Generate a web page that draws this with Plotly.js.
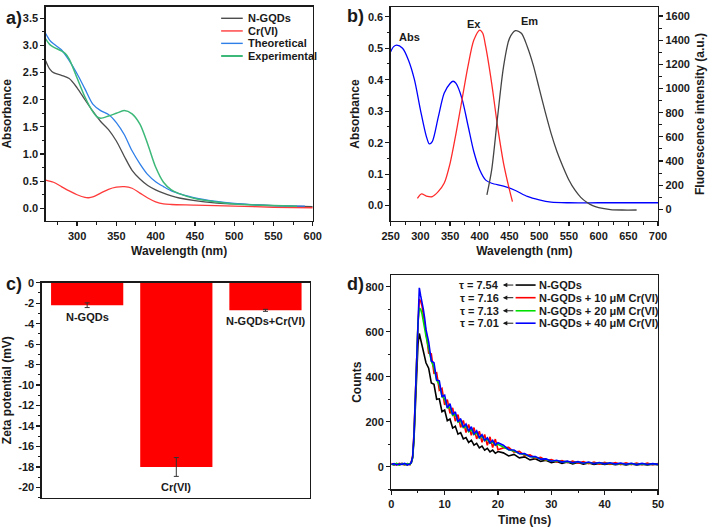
<!DOCTYPE html>
<html>
<head>
<meta charset="utf-8">
<script src="https://cdn.plot.ly/plotly-3.0.1.min.js"></script>
<style>
  html, body { margin: 0; padding: 0; background: #fff; }
  #chart { width: 708px; height: 529px; }
</style>
</head>
<body>
<div id="chart"></div>
<script>
// ---- a) UV-vis absorbance ----
const aGqdNm = [260, 265, 270, 280, 290, 300, 310, 320, 330, 340, 350, 360, 370, 380, 390, 400, 410, 420, 430, 450, 475, 500, 550, 600];
const aGqdAbs = [2.72, 2.57, 2.50, 2.45, 2.39, 2.22, 2.00, 1.79, 1.60, 1.45, 1.24, 0.96, 0.70, 0.54, 0.42, 0.34, 0.28, 0.23, 0.19, 0.14, 0.10, 0.08, 0.05, 0.03];
const aCrNm = [260, 270, 280, 290, 300, 310, 315, 320, 330, 340, 350, 360, 370, 380, 390, 400, 410, 420, 450, 500, 550, 600];
const aCrAbs = [0.52, 0.48, 0.40, 0.32, 0.25, 0.20, 0.195, 0.21, 0.28, 0.35, 0.39, 0.40, 0.37, 0.28, 0.19, 0.12, 0.08, 0.07, 0.06, 0.04, 0.02, 0.01];
const aTheoNm = [260, 265, 270, 280, 290, 300, 310, 320, 330, 340, 350, 360, 370, 380, 390, 400, 410, 420, 430, 450, 475, 500, 550, 590];
const aTheoAbs = [3.22, 3.10, 3.03, 2.92, 2.72, 2.48, 2.20, 1.92, 1.80, 1.73, 1.58, 1.36, 1.06, 0.82, 0.62, 0.49, 0.40, 0.32, 0.27, 0.19, 0.13, 0.09, 0.05, 0.04];
const aExpNm = [260, 265, 270, 280, 285, 290, 300, 310, 320, 325, 330, 340, 350, 360, 370, 380, 390, 400, 410, 420, 430, 450, 475, 500, 550, 580];
const aExpAbs = [3.12, 3.02, 2.97, 2.90, 2.85, 2.75, 2.40, 2.05, 1.78, 1.69, 1.66, 1.70, 1.75, 1.80, 1.74, 1.55, 1.18, 0.76, 0.48, 0.34, 0.27, 0.18, 0.12, 0.08, 0.05, 0.04];
const aNames = ["N-GQDs", "Cr(VI)", "Theoretical", "Experimental"];

// ---- b) absorbance / excitation / emission ----
const bAbsNm = [250, 255, 260, 270, 280, 290, 300, 310, 315, 320, 330, 340, 350, 355, 360, 370, 380, 390, 400, 410, 420, 440, 460, 480, 500, 520, 550, 600, 650, 700];
const bAbs = [0.489, 0.505, 0.510, 0.500, 0.462, 0.400, 0.305, 0.220, 0.196, 0.203, 0.280, 0.357, 0.388, 0.395, 0.388, 0.340, 0.256, 0.171, 0.113, 0.081, 0.071, 0.062, 0.048, 0.029, 0.018, 0.011, 0.009, 0.009, 0.009, 0.009];
const bExNm = [295, 302, 310, 320, 330, 340, 350, 360, 370, 380, 390, 400, 405, 410, 420, 430, 440, 450, 455];
const bEx = [91, 127, 110, 105, 146, 215, 381, 629, 905, 1181, 1401, 1484, 1457, 1346, 1043, 684, 381, 160, 63];
const bEmNm = [412, 420, 430, 440, 450, 460, 470, 480, 490, 500, 510, 520, 530, 540, 550, 560, 570, 580, 590, 600, 620, 640, 664];
const bEm = [119, 326, 767, 1181, 1415, 1479, 1457, 1346, 1194, 1001, 808, 629, 477, 353, 243, 160, 99, 58, 30, 14, -2, -6, -6];
const bLabels = ["Abs", "Ex", "Em"];

// ---- c) zeta potential ----
const cSamples = ["N-GQDs", "Cr(VI)", "N-GQDs+Cr(VI)"];
const cZeta = [-2.2, -18.0, -2.7];
const cErr = [0.23, 0.92, 0.1];
const cTicks = [0, -2, -4, -6, -8, -10, -12, -14, -16, -18, -20];

// ---- d) fluorescence decay ----
const dTime = [0, 0.5, 1, 1.5, 2, 2.5, 3, 3.5,
  3.75, 4, 4.25, 4.5, 4.75, 5, 5.25, 5.5, 5.75, 6, 6.25, 6.5,
  7, 7.5, 8, 8.5, 9, 9.5, 10, 10.5, 11, 11.5, 12, 12.5, 13, 13.5, 14, 14.5, 15, 15.5, 16, 16.5, 17, 17.5, 18, 18.5, 19, 19.5, 20,
  21, 22, 23, 24, 25, 26, 27, 28, 29, 30, 31, 32, 33, 34, 35, 36, 37, 38, 39, 40, 41, 42, 43, 44, 45, 46, 47, 48, 49, 50];
const dGqd = [12, 8, 14, 9, 15, 10, 8, 14,
  18, 40, 120, 260, 420, 545, 592, 565, 540, 510, 480, 462,
  438, 372, 366, 300, 302, 245, 252, 205, 212, 172, 180, 145, 152, 124, 130, 108, 118, 96, 104, 84, 92, 74, 82, 66, 74, 60, 68,
  62, 48, 55, 40, 44, 31, 36, 24, 29, 18, 24, 15, 21, 13, 19, 12, 17, 11, 15, 10, 14, 9, 13, 8, 13, 8, 12, 8, 12, 9];
const dCr10 = [14, 10, 9, 15, 12, 8, 14, 9,
  22, 48, 150, 330, 510, 630, 745, 735, 715, 680, 645, 600,
  505, 502, 415, 418, 340, 348, 275, 298, 237, 262, 203, 232, 175, 206, 152, 188, 140, 174, 124, 158, 109, 144, 96, 133, 86, 123, 76,
  84, 86, 65, 69, 50, 53, 37, 42, 28, 32, 22, 28, 18, 25, 16, 23, 14, 21, 12, 20, 11, 19, 10, 18, 10, 17, 9, 16, 9, 15];
const dCr20 = [11, 9, 15, 8, 13, 10, 14, 10,
  19, 42, 130, 290, 480, 640, 705, 700, 680, 645, 615, 580,
  525, 470, 440, 385, 365, 315, 300, 262, 265, 228, 232, 198, 204, 174, 180, 156, 165, 143, 152, 128, 136, 116, 122, 105, 111, 96, 100,
  89, 76, 70, 59, 55, 46, 42, 35, 32, 26, 27, 22, 23, 18, 21, 16, 19, 15, 17, 14, 16, 12, 15, 11, 14, 11, 13, 10, 13, 11];
const dCr40 = [10, 14, 8, 12, 11, 15, 9, 12,
  20, 45, 140, 310, 520, 690, 795, 760, 735, 700, 660, 610,
  555, 470, 462, 385, 382, 312, 318, 262, 280, 232, 244, 200, 214, 176, 190, 158, 178, 146, 160, 130, 143, 117, 129, 106, 118, 97, 107,
  96, 76, 75, 58, 59, 45, 46, 34, 35, 25, 29, 21, 25, 18, 23, 16, 21, 14, 19, 13, 18, 12, 17, 11, 16, 10, 15, 10, 14, 11];
const dNames = ["N-GQDs", "N-GQDs + 10 \u03bcM Cr(VI)", "N-GQDs + 20 \u03bcM Cr(VI)", "N-GQDs + 40 \u03bcM Cr(VI)"];
const dTau = ["7.54", "7.16", "7.13", "7.01"];

const FONT = "Arial, 'Liberation Sans', sans-serif";
const INK = "#1a1a1a";
const aColors = ["#4d4d4d", "#ff3b3b", "#2f7fe8", "#3cb878"];
const bColors = ["#0000ff", "#ff2a2a", "#444444"];
const dColors = ["#000000", "#ff0000", "#00e000", "#0000ff"];

function axisStyle(extra) {
  return Object.assign({
    showline: true, linecolor: INK, linewidth: 1.3, mirror: true,
    ticks: "outside", ticklen: 4, tickwidth: 1.2, tickcolor: INK,
    showgrid: false, zeroline: false,
    tickfont: { family: FONT, size: 11, color: INK, weight: "bold" }
  }, extra);
}
function minor(dtick) {
  return { dtick: dtick, ticks: "outside", ticklen: 2.5, tickwidth: 1, tickcolor: INK, showgrid: false };
}
const txt = (size) => ({ family: FONT, size: size, color: INK, weight: "bold" });

const line = (x, y, color, xa, ya, w) => ({
  x: x, y: y, type: "scatter", mode: "lines", xaxis: xa, yaxis: ya,
  line: { color: color, width: w || 1.3, shape: "spline", smoothing: 0.8 },
  showlegend: false, hoverinfo: "skip"
});

const traces = [
  line(aGqdNm, aGqdAbs, aColors[0], "x", "y"),
  line(aCrNm, aCrAbs, aColors[1], "x", "y"),
  line(aTheoNm, aTheoAbs, aColors[2], "x", "y"),
  line(aExpNm, aExpAbs, aColors[3], "x", "y", 1.5),
  line(bAbsNm, bAbs, bColors[0], "x2", "y2"),
  line(bExNm, bEx, bColors[1], "x2", "y3"),
  line(bEmNm, bEm, bColors[2], "x2", "y3"),
  {
    x: cSamples, y: cZeta, type: "bar", xaxis: "x3", yaxis: "y4", width: 0.81,
    marker: { color: "#ff0000", line: { width: 0 } },
    error_y: { type: "data", array: cErr, visible: true, color: "#333", thickness: 1, width: 2.5 },
    showlegend: false, hoverinfo: "skip"
  }
];
[dGqd, dCr10, dCr20, dCr40].forEach((ys, i) => {
  traces.push({
    x: dTime, y: ys, type: "scatter", mode: "lines", xaxis: "x4", yaxis: "y5",
    line: { color: dColors[i], width: 1.6 }, showlegend: false, hoverinfo: "skip"
  });
});

const annotations = [];
const shapes = [];

// panel letters
[["a)", 4, 18], ["b)", 345, 16], ["c)", 4, 284], ["d)", 345, 284]].forEach(p => {
  annotations.push({ text: p[0], xref: "paper", yref: "paper", x: p[1] / 708, y: 1 - p[2] / 529,
    xanchor: "left", yanchor: "middle", showarrow: false, font: txt(18) });
});

// panel a key
const aKeyY = [0.946, 0.887, 0.829, 0.770];
aNames.forEach((n, i) => {
  shapes.push({ type: "line", xref: "x domain", yref: "y domain", x0: 0.657, x1: 0.738, y0: aKeyY[i], y1: aKeyY[i],
    line: { color: aColors[i], width: i === 3 ? 2 : 1.4 } });
  annotations.push({ text: n, xref: "x domain", yref: "y domain", x: 0.75, y: aKeyY[i],
    xanchor: "left", yanchor: "middle", showarrow: false, font: txt(11) });
});

// panel b peak labels
[[281, 0.535], [391, 0.578], [483, 0.585]].forEach((p, i) => {
  annotations.push({ text: bLabels[i], xref: "x2", yref: "y2", x: p[0], y: p[1],
    showarrow: false, font: txt(11) });
});

// panel c bar labels
[-3.33, -20.0, -3.75].forEach((yv, i) => {
  annotations.push({ text: cSamples[i], xref: "x3", yref: "y4", x: cSamples[i], y: yv,
    showarrow: false, font: txt(11) });
});

// panel d key with lifetimes
const dKeyY = [0.953, 0.894, 0.833, 0.775];
dNames.forEach((n, i) => {
  shapes.push({ type: "line", xref: "x4 domain", yref: "y5 domain", x0: 0.466, x1: 0.541, y0: dKeyY[i], y1: dKeyY[i],
    line: { color: dColors[i], width: 1.6 } });
  annotations.push({ text: n, xref: "x4 domain", yref: "y5 domain", x: 0.548, y: dKeyY[i],
    xanchor: "left", yanchor: "middle", showarrow: false, font: txt(11) });
  annotations.push({ text: "\u03c4 = " + dTau[i], xref: "x4 domain", yref: "y5 domain", x: 0.41, y: dKeyY[i],
    xanchor: "right", yanchor: "middle", showarrow: false, font: txt(11) });
  annotations.push({ text: "", xref: "x4 domain", yref: "y5 domain", x: 0.418, y: dKeyY[i],
    ax: 12, ay: 0, showarrow: true, arrowhead: 2, arrowsize: 0.9, arrowwidth: 1, arrowcolor: INK, standoff: 0 });
});

const layout = {
  width: 708, height: 529,
  margin: { l: 0, r: 0, t: 0, b: 0 },
  paper_bgcolor: "#fff", plot_bgcolor: "#fff",
  showlegend: false,
  font: { family: FONT, color: INK },
  xaxis: axisStyle({ domain: [0.0645, 0.4417], anchor: "y", range: [260, 600], dtick: 50, tick0: 0, minor: minor(25),
    title: { text: "Wavelength (nm)", standoff: 6, font: txt(12) } }),
  yaxis: axisStyle({ domain: [0.5822, 0.9873], anchor: "x", range: [-0.234, 3.714], dtick: 0.5, tick0: 0, tickformat: ".1f", minor: minor(0.25),
    title: { text: "Absorbance", standoff: 8, font: txt(12) } }),
  xaxis2: axisStyle({ domain: [0.5518, 0.9294], anchor: "y2", range: [250, 700], dtick: 50, tick0: 0, minor: minor(25),
    title: { text: "Wavelength (nm)", standoff: 6, font: txt(12) } }),
  yaxis2: axisStyle({ domain: [0.5822, 0.9868], anchor: "x2", mirror: false, range: [-0.049, 0.631], dtick: 0.1, tick0: 0, tickformat: ".1f", minor: minor(0.05),
    title: { text: "Absorbance", standoff: 5, font: txt(12) } }),
  yaxis3: axisStyle({ overlaying: "y2", side: "right", anchor: "x2", mirror: false, range: [-97, 1675], dtick: 200, tick0: 0, minor: minor(100),
    title: { text: "Fluorescence intensity (a.u.)", standoff: 6, font: txt(12) } }),
  xaxis3: axisStyle({ domain: [0.0589, 0.4379], anchor: "y4", type: "category", range: [-0.51, 2.5], ticks: "", showticklabels: false }),
  yaxis4: axisStyle({ domain: [0.0592, 0.4656], anchor: "x3", range: [-21, 0], tickmode: "array",
    tickvals: cTicks, ticktext: cTicks.map(v => String(v)), minor: minor(1),
    title: { text: "Zeta potential (mV)", standoff: 8, font: txt(12) } }),
  xaxis4: axisStyle({ domain: [0.5527, 0.9294], anchor: "y5", range: [0, 50], dtick: 10, tick0: 0, minor: minor(5),
    title: { text: "Time (ns)", standoff: 6, font: txt(12) } }),
  yaxis5: axisStyle({ domain: [0.0750, 0.4802], anchor: "x4", range: [-100, 852], dtick: 200, tick0: 0, minor: minor(100),
    title: { text: "Counts", standoff: 1, font: txt(12) } }),
  annotations: annotations,
  shapes: shapes
};

Plotly.newPlot("chart", traces, layout, { staticPlot: true, displayModeBar: false });
</script>
</body>
</html>
